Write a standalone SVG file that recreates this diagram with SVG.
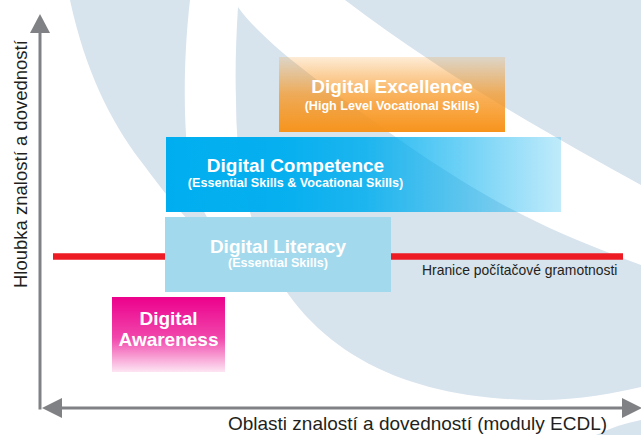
<svg xmlns="http://www.w3.org/2000/svg" width="641" height="435" viewBox="0 0 641 435">
  <defs>
    <linearGradient id="excGrad" x1="0" y1="0" x2="0" y2="1">
      <stop offset="0" stop-color="#f7941d" stop-opacity="0.18"/>
      <stop offset="0.5" stop-color="#f7941d" stop-opacity="0.72"/>
      <stop offset="1" stop-color="#f7941d" stop-opacity="1"/>
    </linearGradient>
    <linearGradient id="compGrad" x1="0" y1="0" x2="1" y2="0">
      <stop offset="0" stop-color="#00aeef" stop-opacity="1"/>
      <stop offset="0.3" stop-color="#00aeef" stop-opacity="0.97"/>
      <stop offset="0.5" stop-color="#00aeef" stop-opacity="0.87"/>
      <stop offset="0.75" stop-color="#00aeef" stop-opacity="0.57"/>
      <stop offset="1" stop-color="#00aeef" stop-opacity="0.25"/>
    </linearGradient>
    <linearGradient id="awGrad" x1="0" y1="0" x2="0" y2="1">
      <stop offset="0" stop-color="#ec008c" stop-opacity="1"/>
      <stop offset="0.55" stop-color="#ec008c" stop-opacity="0.72"/>
      <stop offset="1" stop-color="#ec008c" stop-opacity="0.1"/>
    </linearGradient>
  </defs>
  <style>
    .bg { fill: #d7e3ed; }
    .axis { stroke: #808184; stroke-width: 3; fill: none; }
    .head { fill: #808184; }
    .t { font-family: "Liberation Sans", Arial, sans-serif; }
    .h1 { font-size: 19px; font-weight: bold; fill: #ffffff; text-anchor: middle; }
    .h2 { font-size: 12.6px; font-weight: bold; fill: #ffffff; text-anchor: middle; }
    .lbl { font-size: 18.5px; fill: #231f20; }
    .lblx { font-size: 19px; fill: #231f20; }
    .small { font-size: 13.9px; fill: #231f20; }
  </style>
  <rect x="0" y="0" width="641" height="435" fill="#ffffff"/>
  <g id="background">
    <path class="bg" d="M70,0 L190,0 C 183,60 183,130 190,170 C 196,200 210,230 240,262 C 200,240 170,200 140,160 C 110,120 85,70 70,0 Z"/>
    <path class="bg" d="M238,7 C 236,40 235,70 236,100 C 236,313 359,400 540,400 C 580,400 615,393 641,387 L641,265 C 560,235 500,210 400,140 C 330,90 265,45 238,7 Z"/>
    <path class="bg" d="M345,0 L641,0 L641,185 C 560,140 450,80 345,0 Z"/>
    <path class="bg" d="M596,435 C 610,428 625,423 641,420 L641,435 Z"/>
  </g>
  <g id="boundary">
    <line x1="53" y1="256.5" x2="623" y2="256.5" stroke="#ed1c24" stroke-width="6.5"/>
    <text class="t small" x="422" y="275">Hranice počítačové gramotnosti</text>
  </g>
  <g id="digital-excellence">
    <rect x="279" y="57" width="226" height="75" fill="url(#excGrad)"/>
    <text class="t h1" x="392" y="93">Digital Excellence</text>
    <text class="t h2" x="392" y="110">(High Level Vocational Skills)</text>
  </g>
  <g id="digital-competence">
    <rect x="166" y="137" width="395" height="75" fill="url(#compGrad)"/>
    <text class="t h1" x="295.5" y="172">Digital Competence</text>
    <text class="t h2" x="295.5" y="187">(Essential Skills &amp; Vocational Skills)</text>
  </g>
  <g id="digital-literacy">
    <rect x="165" y="217" width="226" height="75" fill="#a3d9ec"/>
    <text class="t h1" x="278" y="253">Digital Literacy</text>
    <text class="t h2" x="278" y="267">(Essential Skills)</text>
  </g>
  <g id="digital-awareness">
    <rect x="112" y="297" width="113" height="75" fill="url(#awGrad)"/>
    <text class="t h1" x="168.5" y="325">Digital</text>
    <text class="t h1" x="168.5" y="346">Awareness</text>
  </g>
  <g id="connectors">
    <line class="axis" x1="40" y1="30" x2="40" y2="409.5"/>
    <polygon class="head" points="30,33 40,14 50,33"/>
    <line class="axis" x1="58" y1="408" x2="626" y2="408"/>
    <polygon class="head" points="62,398 42,408 62,418"/>
    <polygon class="head" points="622,398 642,408 622,418"/>
  </g>
  <g id="axis-labels">
    <text class="t lbl" transform="translate(27,288) rotate(-90)">Hloubka znalostí a dovedností</text>
    <text class="t lblx" x="417.5" y="430" text-anchor="middle">Oblasti znalostí a dovedností (moduly ECDL)</text>
  </g>
</svg>
